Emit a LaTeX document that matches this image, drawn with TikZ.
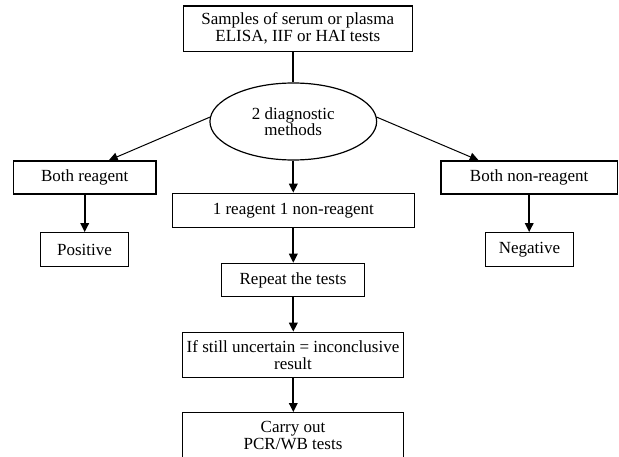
\documentclass[tikz,border=0pt]{standalone}
\usepackage{fontspec}
\setmainfont{Liberation Serif}
\usetikzlibrary{arrows.meta,shapes.geometric,calc}
\tikzset{
  boxnode/.style={draw, line width=1.2pt, rectangle, inner sep=0pt, align=center, font=\fontsize{17}{17}\selectfont},
  ellnode/.style={draw, line width=1.2pt, ellipse, inner sep=0pt, align=center, font=\fontsize{17}{16}\selectfont},
  varrow/.style={line width=1.8pt, -{Triangle[length=9pt,width=8.5pt]}},
  darrow/.style={line width=1pt, -{Triangle[length=9pt,width=8.5pt]}},
  plainline/.style={line width=1.8pt}
}
\begin{document}
\begin{tikzpicture}[x=1pt,y=-1pt]
\useasboundingbox (0,0) rectangle (619,457);
\clip (0,0) rectangle (619,457);
\node[boxnode, minimum width=229pt, minimum height=45.7pt] (top) at (297.8,28.8) {Samples of serum or plasma\\ELISA, IIF or HAI tests};
\node[ellnode, minimum width=166.7pt, minimum height=77pt] (ell) at (293.3,121.5) {2 diagnostic\\methods};
\node[boxnode, minimum width=142.7pt, minimum height=33pt] (br) at (84.7,177.5) {Both reagent};
\node[boxnode, minimum width=87.7pt, minimum height=34pt] (pos) at (84.5,249.7) {Positive};
\node[boxnode, minimum width=176.3pt, minimum height=33pt] (bn) at (529.2,177.5) {Both non-reagent};
\node[boxnode, minimum width=87.7pt, minimum height=34pt] (neg) at (529.5,249.7) {Negative};
\node[boxnode, minimum width=242pt, minimum height=34pt] (one) at (293.3,210.3) {1 reagent 1 non-reagent};
\node[boxnode, minimum width=142.7pt, minimum height=33.3pt] (rep) at (293,280) {Repeat the tests};
\node[boxnode, minimum width=220.7pt, minimum height=45pt] (still) at (293,354.8) {If still uncertain = inconclusive\\result};
\node[boxnode, minimum width=220.7pt, minimum height=46.3pt] (carry) at (293,435.85) {Carry out\\PCR/WB tests};

\draw[plainline] (ell.north |- top.south) -- (ell.north);
\draw[darrow] (ell.177) -- ($(br.north west)!0.667!(br.north east)$);
\draw[darrow] (ell.3) -- ($(bn.north west)!0.2155!(bn.north east)$);
\draw[varrow] (br.south) -- (br.south |- pos.north);
\draw[varrow] (bn.south) -- (bn.south |- neg.north);
\draw[varrow] (ell.south) -- (ell.south |- one.north);
\draw[varrow] (ell.south |- one.south) -- (ell.south |- rep.north);
\draw[varrow] (ell.south |- rep.south) -- (ell.south |- still.north);
\draw[varrow] (ell.south |- still.south) -- (ell.south |- carry.north);
\end{tikzpicture}
\end{document}
